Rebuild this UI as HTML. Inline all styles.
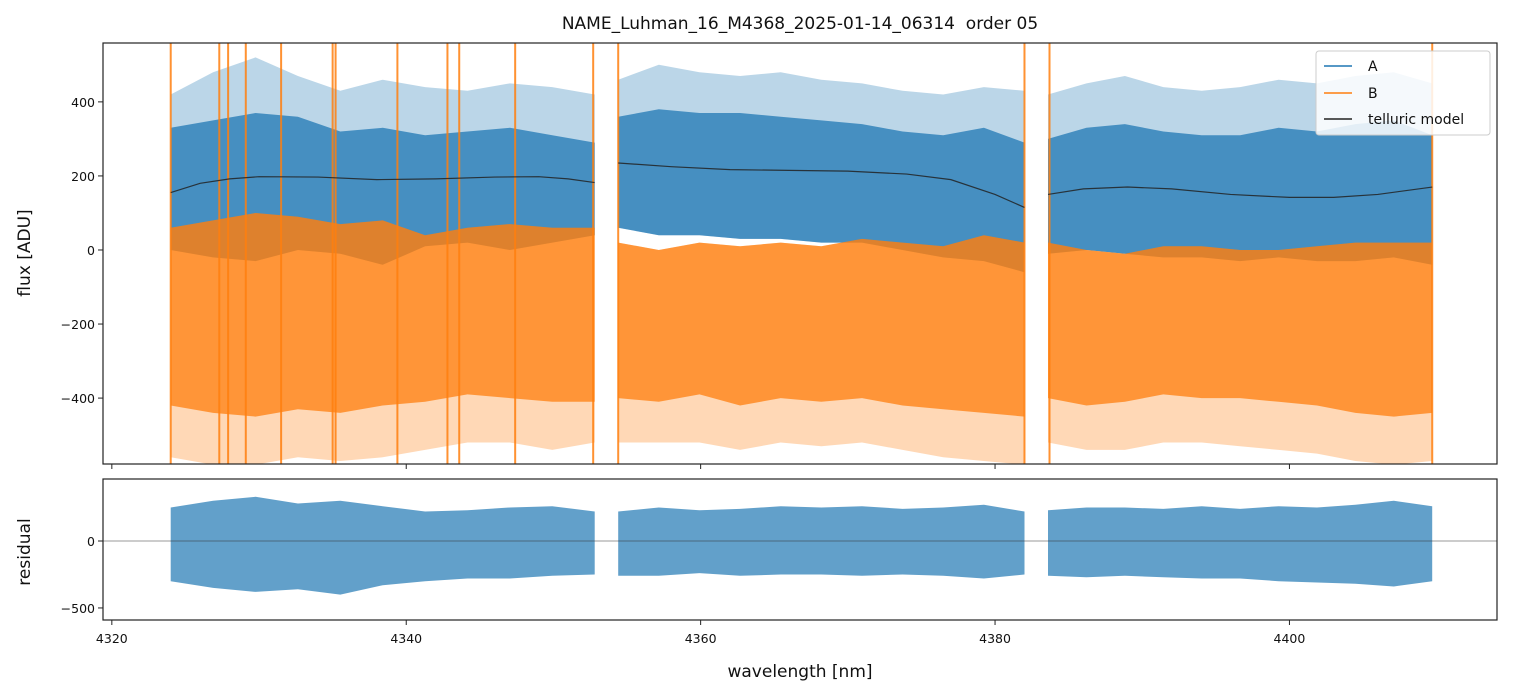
<!DOCTYPE html>
<html><head><meta charset="utf-8">
<style>
body{margin:0;background:#fff;}
svg{display:block;font-family:"DejaVu Sans","Liberation Sans",sans-serif;}
</style></head>
<body>
<svg id="chart" width="1513" height="696" viewBox="0 0 1513 696">
<rect width="1513" height="696" fill="#fff"/>
<text x="800" y="29" font-size="17" text-anchor="middle" fill="#111">NAME_Luhman_16_M4368_2025-01-14_06314&#160; order 05</text>
<defs>
<clipPath id="c1"><rect x="103" y="43" width="1394" height="421"/></clipPath>
<clipPath id="c2"><rect x="103" y="479" width="1394" height="141"/></clipPath>
</defs>
<g id="topg" clip-path="url(#c1)"></g>
<g id="botg" clip-path="url(#c2)"></g>
<g id="axesg"></g>
<text x="800" y="677" font-size="17" text-anchor="middle" fill="#111">wavelength [nm]</text>
<text x="30" y="253" font-size="17" text-anchor="middle" fill="#111" transform="rotate(-90 30 253)">flux [ADU]</text>
<text x="30" y="552" font-size="17" text-anchor="middle" fill="#111" transform="rotate(-90 30 552)">residual</text>
<g font-size="14" fill="#111">
<rect x="1316" y="51" width="174" height="84" rx="3" fill="#fff" fill-opacity="0.85" stroke="#ccc"/>
<line x1="1324" y1="66" x2="1352" y2="66" stroke="#1f77b4" stroke-width="1.5"/><text x="1368" y="71">A</text>
<line x1="1324" y1="93" x2="1352" y2="93" stroke="#ff7f0e" stroke-width="1.5"/><text x="1368" y="98">B</text>
<line x1="1324" y1="119" x2="1352" y2="119" stroke="#222" stroke-width="1.5"/><text x="1368" y="124">telluric model</text>
</g>
</svg>
<script>
// ---- data ----
const segments=[[4324.0,4352.8],[4354.4,4382.0],[4383.6,4409.7]];
const envX=[0,0.1,0.2,0.3,0.4,0.5,0.6,0.7,0.8,0.9,1.0];
const aOuterHi=[[420,480,520,470,430,460,440,430,450,440,420],[460,500,480,470,480,460,450,430,420,440,430],[420,450,470,440,430,440,460,450,470,480,450]];
const aInnerHi=[[330,350,370,360,320,330,310,320,330,310,290],[360,380,370,370,360,350,340,320,310,330,290],[300,330,340,320,310,310,330,320,340,350,310]];
const aInnerLo=[[0,-20,-30,0,-10,-40,10,20,0,20,40],[60,40,40,30,30,20,20,0,-20,-30,-60],[-10,0,-10,-20,-20,-30,-20,-30,-30,-20,-40]];
const bInnerHi=[[60,80,100,90,70,80,40,60,70,60,60],[20,0,20,10,20,10,30,20,10,40,20],[20,0,-10,10,10,0,0,10,20,20,20]];
const bInnerLo=[[-420,-440,-450,-430,-440,-420,-410,-390,-400,-410,-410],[-400,-410,-390,-420,-400,-410,-400,-420,-430,-440,-450],[-400,-420,-410,-390,-400,-400,-410,-420,-440,-450,-440]];
const bOuterLo=[[-560,-580,-580,-560,-570,-560,-540,-520,-520,-540,-520],[-520,-520,-520,-540,-520,-530,-520,-540,-560,-570,-580],[-520,-540,-540,-520,-520,-530,-540,-550,-570,-580,-570]];
const bSpikes=[4324.0,4327.3,4327.9,4329.1,4331.5,4335.0,4335.2,4339.4,4342.8,4343.6,4347.4,4352.7,4354.4,4382.0,4383.7,4409.7];
const modelW=[[4324,4326,4328,4330,4334,4338,4342,4346,4349,4351,4352.8],[4354.4,4358,4362,4366,4370,4374,4377,4380,4382],[4383.6,4386,4389,4392,4396,4400,4403,4406,4409.7]];
const modelF=[[155,180,192,198,197,190,192,197,198,192,182],[235,225,217,215,213,205,190,150,115],[150,165,170,165,150,142,142,150,170]];
const resHi=[[250,300,330,280,300,260,220,230,250,260,220],[220,250,230,240,260,250,260,240,250,270,220],[230,250,250,240,260,240,260,250,270,300,260]];
const resLo=[[-300,-350,-380,-360,-400,-330,-300,-280,-280,-260,-250],[-260,-260,-240,-260,-250,-250,-260,-250,-260,-280,-250],[-260,-270,-260,-270,-280,-280,-300,-310,-320,-340,-300]];
const xTicks=[4320,4340,4360,4380,4400];
const yTicksTop=[400,200,0,-200,-400];
const yTicksBot=[0,-500];
// ---- scales ----
const X=w=>103+(w-4319.4)*(1394/(4414.1-4319.4));
const YT=v=>43+(559-v)*(421/(559+578));
const YB=v=>479+(463-v)*(141/(463+590));
const NS='http://www.w3.org/2000/svg';
function mk(p,t,a){const e=document.createElementNS(NS,t);for(const k in a)e.setAttribute(k,a[k]);p.appendChild(e);return e;}
const gTop=document.getElementById('topg'),gBot=document.getElementById('botg'),gAx=document.getElementById('axesg');
function band(g,si,hi,lo,Y,col,op,name){
  const [w0,w1]=segments[si];
  const up=envX.map((f,i)=>X(w0+f*(w1-w0)).toFixed(1)+','+Y(hi[si][i]).toFixed(1));
  const dn=envX.map((f,i)=>X(w0+f*(w1-w0)).toFixed(1)+','+Y(lo[si][i]).toFixed(1)).reverse();
  const p=mk(g,'polygon',{points:up.concat(dn).join(' '),fill:col,'fill-opacity':op});
  
  
}
for(let s=0;s<3;s++){
  band(gTop,s,aOuterHi,aInnerLo,YT,'#1f77b4',0.3,'series-a-outer-band');
  band(gTop,s,aInnerHi,aInnerLo,YT,'#1f77b4',0.75,'series-a-band');
}
for(let s=0;s<3;s++){
  band(gTop,s,bInnerHi,bOuterLo,YT,'#ff7f0e',0.3,'series-b-outer-band');
  band(gTop,s,bInnerHi,bInnerLo,YT,'#ff7f0e',0.75,'series-b-band');
}
bSpikes.forEach(w=>{
  const l=mk(gTop,'line',{x1:X(w),x2:X(w),y1:YT(600),y2:YT(-600),stroke:'#ff7f0e','stroke-width':2,'stroke-opacity':0.85});
  
  
});
modelW.forEach((ws,s)=>{
  const p=mk(gTop,'polyline',{points:ws.map((w,i)=>X(w)+','+YT(modelF[s][i])).join(' '),fill:'none',stroke:'#222','stroke-width':1.2,'stroke-opacity':0.85});
  
  
});
for(let s=0;s<3;s++) band(gBot,s,resHi,resLo,YB,'#1f77b4',0.7,'residual-band');
const zl=mk(gBot,'line',{x1:103,x2:1497,y1:YB(0),y2:YB(0),stroke:'#333','stroke-width':0.6});


[[43,421],[479,141]].forEach(([y,h],i)=>{
  const r=mk(gAx,'rect',{x:103,y:y,width:1394,height:h,fill:'none',stroke:'#222','stroke-width':1.2});
  
  
});
xTicks.forEach(t=>{
  mk(gAx,'line',{x1:X(t),x2:X(t),y1:464,y2:469,stroke:'#222'});
  mk(gAx,'line',{x1:X(t),x2:X(t),y1:620,y2:625,stroke:'#222'});
  const tx=mk(gAx,'text',{x:X(t),y:643,'font-size':12.5,'text-anchor':'middle',fill:'#111'});tx.textContent=t;
  
  
});
yTicksTop.forEach(t=>{
  mk(gAx,'line',{x1:98,x2:103,y1:YT(t),y2:YT(t),stroke:'#222'});
  const tx=mk(gAx,'text',{x:95,y:YT(t)+5,'font-size':12.5,'text-anchor':'end',fill:'#111'});tx.textContent=t<0?'\u2212'+(-t):t;
  
  
});
yTicksBot.forEach(t=>{
  mk(gAx,'line',{x1:98,x2:103,y1:YB(t),y2:YB(t),stroke:'#222'});
  const tx=mk(gAx,'text',{x:95,y:YB(t)+5,'font-size':12.5,'text-anchor':'end',fill:'#111'});tx.textContent=t<0?'\u2212'+(-t):t;
  
  
});
</script>
</body></html>
